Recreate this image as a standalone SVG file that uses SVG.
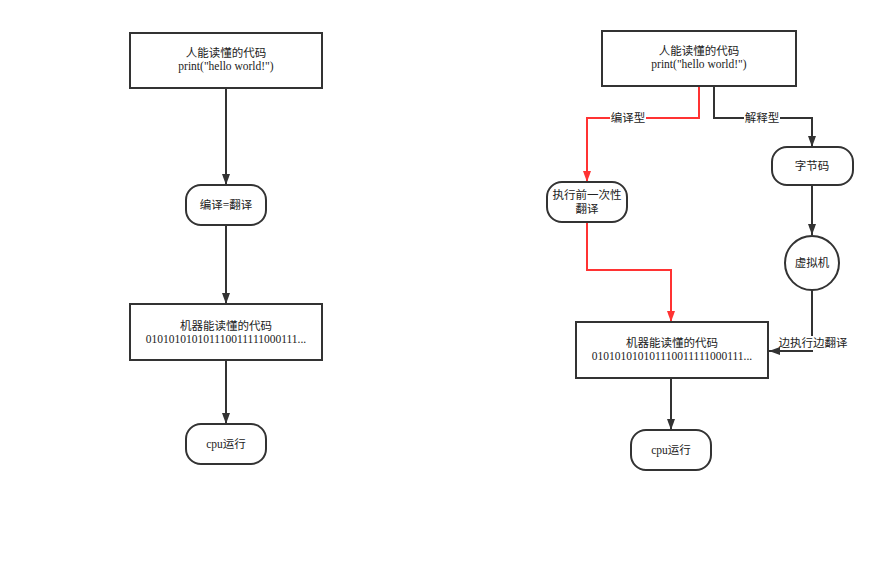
<svg xmlns="http://www.w3.org/2000/svg" width="889" height="573" viewBox="0 0 889 573">
<defs>
<marker id="ab" viewBox="0 0 11 8" refX="11" refY="4" markerWidth="11" markerHeight="8" orient="auto" markerUnits="userSpaceOnUse">
<path d="M0,0 L11,4 L0,8 Z" fill="#333"/>
</marker>
<marker id="ar" viewBox="0 0 11 8" refX="11" refY="4" markerWidth="11" markerHeight="8" orient="auto" markerUnits="userSpaceOnUse">
<path d="M0,0 L11,4 L0,8 Z" fill="#ff3333"/>
</marker>
<style>
.box{fill:#fff;stroke:#333;stroke-width:2}
.t{font-family:"Liberation Serif","Noto Sans CJK SC",serif;font-size:11.5px;fill:#222;text-anchor:middle}
.c{fill:none;stroke:#333;stroke-width:2}
.r{fill:none;stroke:#ff3333;stroke-width:2}
.lb{fill:#fff}
</style>
</defs>
<rect width="889" height="573" fill="#fff"/>
<g id="connectors">
<path class="c" d="M226,88 V185" marker-end="url(#ab)"/>
<path class="c" d="M226,225 V304" marker-end="url(#ab)"/>
<path class="c" d="M226,360 V424" marker-end="url(#ab)"/>
<path class="r" d="M699,86 V118 H587 V182" marker-end="url(#ar)"/>
<path class="c" d="M714,86 V118 H812 V147" marker-end="url(#ab)"/>
<path class="r" d="M587,222 V270 H671 V322" marker-end="url(#ar)"/>
<path class="c" d="M812,185 V235" marker-end="url(#ab)"/>
<path class="c" d="M812,290 V351 H769" marker-end="url(#ab)"/>
<path class="c" d="M671,378 V430" marker-end="url(#ab)"/>
<rect class="lb" x="610" y="111" width="36" height="14"/>
<text class="t" x="628" y="122">编译型</text>
<rect class="lb" x="744" y="111" width="36" height="14"/>
<text class="t" x="762" y="122">解释型</text>
<rect class="lb" x="780" y="336" width="66" height="14"/>
<text class="t" x="813" y="347">边执行边翻译</text>
</g>
<g id="n1">
<rect class="box" x="130" y="33" width="192" height="55"/>
<text class="t" x="226" y="57">人能读懂的代码</text>
<text class="t" x="226" y="70">print("hello world!")</text>
</g>
<g id="n2">
<rect class="box" x="186" y="185" width="80" height="40" rx="15"/>
<text class="t" x="226" y="209">编译=翻译</text>
</g>
<g id="n3">
<rect class="box" x="130" y="304" width="192" height="56"/>
<text class="t" x="226" y="330">机器能读懂的代码</text>
<text class="t" x="226" y="343">010101010101110011111000111...</text>
</g>
<g id="n4">
<rect class="box" x="186" y="424" width="80" height="40" rx="15"/>
<text class="t" x="226" y="448">cpu运行</text>
</g>
<g id="m1">
<rect class="box" x="602" y="31" width="194" height="55"/>
<text class="t" x="699" y="55">人能读懂的代码</text>
<text class="t" x="699" y="68">print("hello world!")</text>
</g>
<g id="m2">
<rect class="box" x="547" y="182" width="80" height="40" rx="15"/>
<text class="t" x="587" y="199">执行前一次性</text>
<text class="t" x="587" y="213">翻译</text>
</g>
<g id="m3">
<rect class="box" x="772" y="147" width="81" height="38" rx="15"/>
<text class="t" x="812" y="170">字节码</text>
</g>
<g id="m4">
<circle class="box" cx="812" cy="263" r="27"/>
<text class="t" x="812" y="267">虚拟机</text>
</g>
<g id="m5">
<rect class="box" x="576" y="322" width="192" height="56"/>
<text class="t" x="672" y="347">机器能读懂的代码</text>
<text class="t" x="672" y="360">010101010101110011111000111...</text>
</g>
<g id="m6">
<rect class="box" x="631" y="430" width="80" height="40" rx="15"/>
<text class="t" x="671" y="454">cpu运行</text>
</g>
</svg>
